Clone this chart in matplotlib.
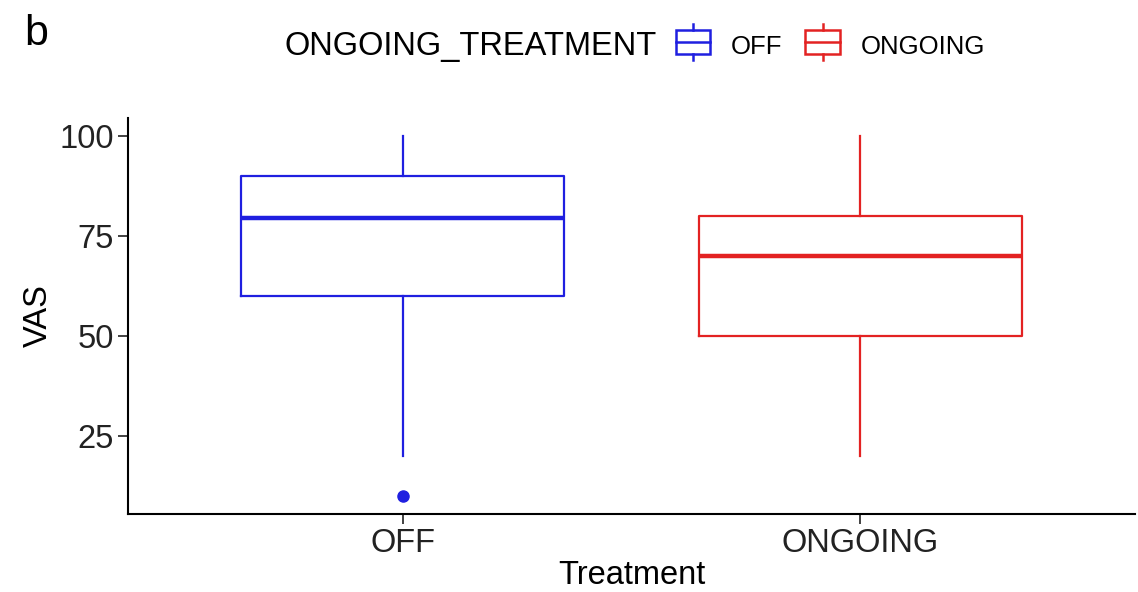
import matplotlib

matplotlib.use("Agg")
import matplotlib.pyplot as plt
from matplotlib.legend_handler import HandlerBase
from matplotlib.patches import Rectangle
from matplotlib.lines import Line2D

plt.rcParams["font.family"] = ["Liberation Sans", "DejaVu Sans"]

# data
groups = ["OFF", "ONGOING"]
colors = ["#1f1fe0", "#e32222"]
whisker_low = [20, 20]
q1 = [60, 50]
median = [79.5, 70]
q3 = [90, 80]
whisker_high = [100, 100]
outliers = [[10], []]
yticks = [25, 50, 75, 100]


class BoxHandler(HandlerBase):
    # little boxplot glyph like ggplot's legend key
    def create_artists(self, legend, orig, xd, yd, width, height, fontsize, trans):
        c = orig.get_color()
        x0, w = xd, width
        b0, h = yd - height * 0.05, height * 1.1
        top, bot = yd + height * 1.35, yd - height * 0.35
        box = Rectangle((x0, b0), w, h, fill=False, ec=c, lw=1.8, transform=trans)
        mid = Line2D([x0, x0 + w], [b0 + h / 2] * 2, color=c, lw=1.8, transform=trans)
        wu = Line2D([x0 + w / 2] * 2, [b0 + h, top], color=c, lw=1.8, transform=trans)
        wl = Line2D([x0 + w / 2] * 2, [bot, b0], color=c, lw=1.8, transform=trans)
        return [box, mid, wu, wl]


fig = plt.figure(figsize=(11.38, 5.92), dpi=100)
ax = fig.add_axes([128 / 1138, 78 / 592, 1007 / 1138, 396 / 592])

for i, g in enumerate(groups):
    stats = [{
        "med": median[i], "q1": q1[i], "q3": q3[i],
        "whislo": whisker_low[i], "whishi": whisker_high[i],
        "fliers": outliers[i], "label": g,
    }]
    c = colors[i]
    ax.bxp(stats, positions=[i + 1], widths=0.705, showcaps=False, patch_artist=False,
           boxprops=dict(color=c, lw=1.6),
           whiskerprops=dict(color=c, lw=1.6),
           medianprops=dict(color=c, lw=3.2),
           flierprops=dict(marker="o", markerfacecolor=c, markeredgecolor=c, markersize=8))

ax.set_xlim(0.4, 2.6)
ax.set_ylim(5.5, 104.5)
ax.set_xticks([1, 2])
ax.set_xticklabels(groups)
ax.set_yticks(yticks)
ax.tick_params(axis="both", labelsize=23.5, length=7, width=1.3, colors="#333333",
               labelcolor="#222222", pad=3)
for s in ["top", "right"]:
    ax.spines[s].set_visible(False)
for s in ["left", "bottom"]:
    ax.spines[s].set_linewidth(1.5)
    ax.spines[s].set_color("black")
ax.set_xlabel("Treatment", fontsize=23.5, labelpad=1)
ax.set_ylabel("VAS", fontsize=23.5, labelpad=4)

handles = [Line2D([], [], color=c) for c in colors]
fig.text(285 / 1138, 1 - 47 / 592, "ONGOING_TREATMENT", fontsize=23.5, va="center", ha="left")
fig.legend(handles, groups, handler_map={Line2D: BoxHandler()}, ncol=2,
           loc="center left", bbox_to_anchor=(655 / 1138, 1 - 47 / 592), frameon=False,
           fontsize=18.5, handlelength=1.35, handleheight=0.9, handletextpad=0.8,
           columnspacing=0.9, borderpad=0.3)

fig.text(24 / 1138, 1 - 34 / 592, "b", fontsize=31, va="center", ha="left")

fig.savefig("out.png", dpi=100)
